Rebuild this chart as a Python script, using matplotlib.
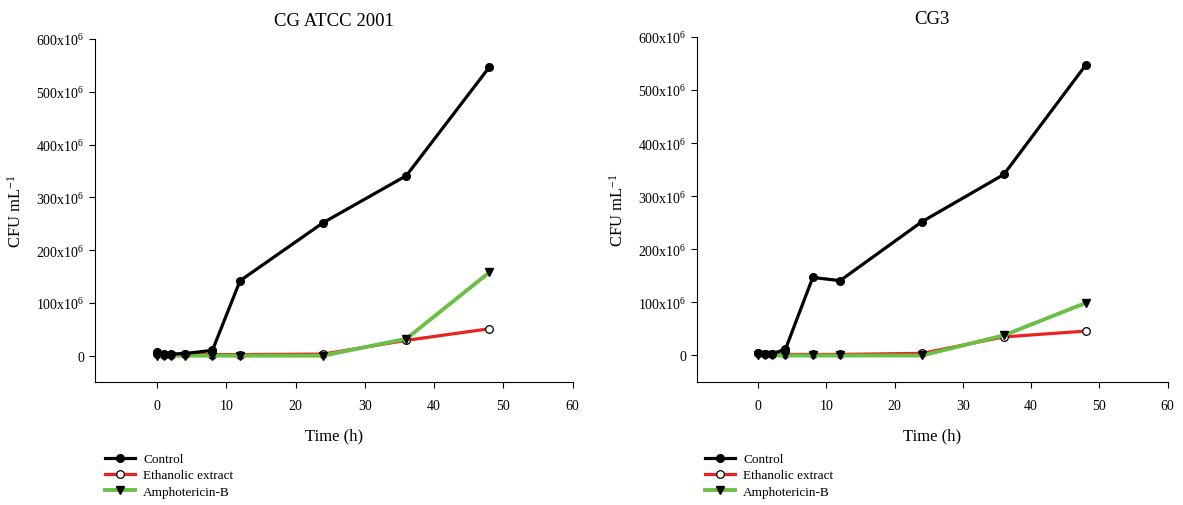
import numpy as np
import matplotlib
matplotlib.use("Agg")
import matplotlib.pyplot as plt
from matplotlib.ticker import FuncFormatter

plt.rcParams['font.family'] = ['Liberation Serif', 'DejaVu Serif']
plt.rcParams['mathtext.fontset'] = 'custom'
plt.rcParams['mathtext.rm'] = 'Liberation Serif'
plt.rcParams['mathtext.it'] = 'Liberation Serif:italic'

time_h = [0, 1, 2, 4, 8, 12, 24, 36, 48]

# values in CFU/mL (x10^6)
atcc_control = [6, 3, 3, 4, 10, 142, 252, 341, 547]
atcc_ethanolic = [3, 2, 2, 3, 2, 2, 3, 29, 51]
atcc_ampho = [0, 0, 0, 0, 0, 0, 0, 32, 158]

cg3_control = [4, 3, 3, 12, 147, 141, 252, 341, 547]
cg3_ethanolic = [5, 3, 3, 2, 2, 2, 4, 35, 46]
cg3_ampho = [0, 0, 0, 0, 0, 0, 0, 38, 99]

panels = [
    ("CG ATCC 2001", atcc_control, atcc_ethanolic, atcc_ampho),
    ("CG3", cg3_control, cg3_ethanolic, cg3_ampho),
]

fig = plt.figure(figsize=(11.83, 5.06), dpi=100)
ax1 = fig.add_axes([0.080, 0.243, 0.404, 0.678])
ax2 = fig.add_axes([0.589, 0.243, 0.398, 0.682])
legend_x = [0.0888, 0.596]


def ytick_fmt(v, pos):
    if abs(v) < 1:
        return "0"
    return r"%dx10$^{6}$" % round(v / 1e6)


for ax, (title, ctrl, eth, amp), lx in zip([ax1, ax2], panels, legend_x):
    t = np.array(time_h)
    ax.plot(t, np.array(ctrl) * 1e6, color='black', lw=2.3, marker='o',
            ms=5.5, mfc='black', mec='black', label='Control', zorder=3)
    ax.plot(t, np.array(eth) * 1e6, color='#e8231f', lw=2.3, marker='o',
            ms=5.5, mfc='white', mec='black', mew=0.9,
            label='Ethanolic extract', zorder=2)
    ax.plot(t, np.array(amp) * 1e6, color='#6bbf45', lw=2.8, marker='v',
            ms=6, mfc='black', mec='black', label='Amphotericin-B', zorder=2.5)

    ax.set_xlim(-9, 60)
    ax.set_ylim(-50e6, 600e6)
    ax.set_xticks([0, 10, 20, 30, 40, 50, 60])
    ax.set_yticks(np.arange(0, 600e6 + 1, 100e6))
    ax.yaxis.set_major_formatter(FuncFormatter(ytick_fmt))
    ax.spines['top'].set_visible(False)
    ax.spines['right'].set_visible(False)
    ax.tick_params(labelsize=10, length=4, width=0.8)
    ax.tick_params(axis='x', pad=8)
    ax.set_title(title, fontsize=13.5, pad=10)
    ax.set_xlabel("Time (h)", fontsize=12, labelpad=11)
    ax.set_ylabel(r"CFU mL$^{-1}$", fontsize=12, labelpad=8)

    h, l = ax.get_legend_handles_labels()
    fig.legend(h, l, loc='upper left', bbox_to_anchor=(lx, 0.103),
               frameon=False, fontsize=9.5, handlelength=2.3,
               handletextpad=0.6, labelspacing=0.3, borderpad=0,
               borderaxespad=0)

fig.savefig("out.png", dpi=100)
